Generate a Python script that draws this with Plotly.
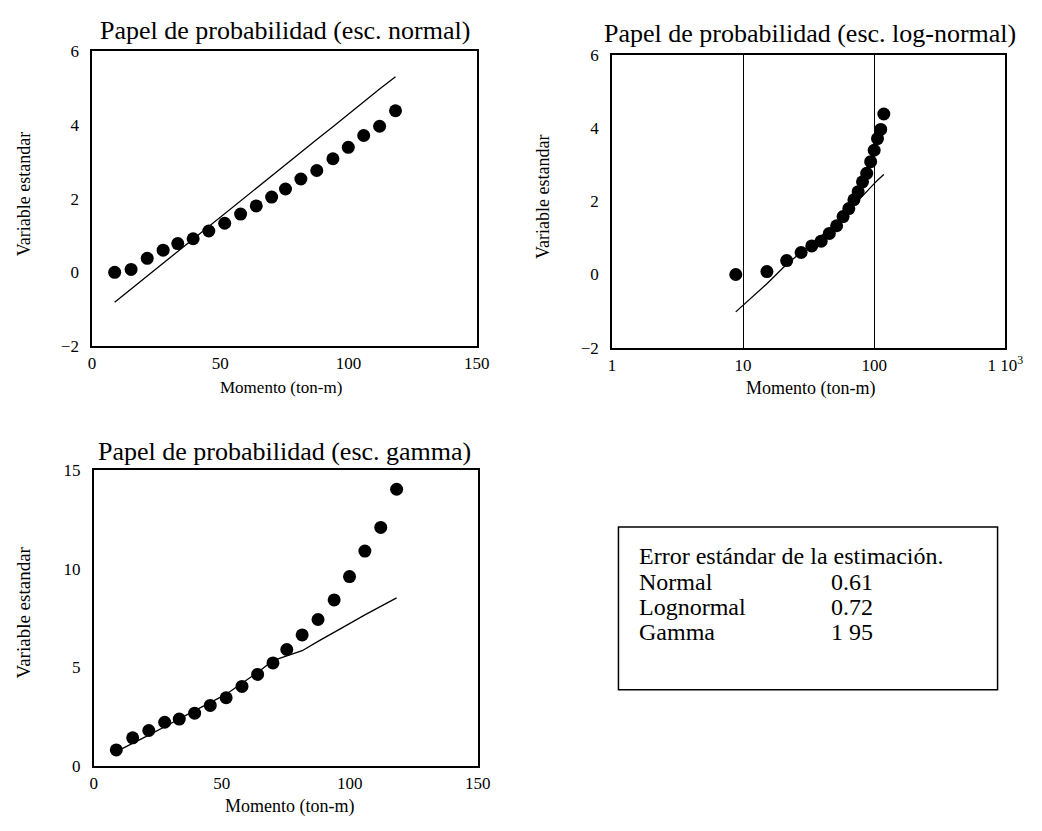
import plotly.graph_objects as go

W, H = 1042, 831
FONT = "Liberation Serif"

# ---------------- data ----------------
moment = [8.8, 15.2, 21.5, 27.7, 33.4, 39.4, 45.5, 51.7, 57.9, 64.0,
          70.0, 75.4, 81.4, 87.6, 93.9, 99.9, 105.9, 112.1, 118.3]
std_var = [0.0, 0.08, 0.38, 0.60, 0.78, 0.91, 1.12, 1.33, 1.58, 1.80,
           2.04, 2.26, 2.53, 2.76, 3.08, 3.39, 3.71, 3.96, 4.38]
fit_normal = [-0.81, -0.45, -0.10, 0.25, 0.56, 0.90, 1.24, 1.59, 1.94, 2.28,
              2.61, 2.92, 3.25, 3.60, 3.95, 4.29, 4.62, 4.97, 5.30]
fit_lognormal = [-1.02, -0.25, 0.28, 0.60, 0.84, 1.05, 1.23, 1.40, 1.58, 1.75,
                 1.90, 2.03, 2.16, 2.27, 2.38, 2.48, 2.57, 2.65, 2.73]
gamma_var = [0.83, 1.44, 1.81, 2.23, 2.39, 2.69, 3.08, 3.47, 4.04, 4.65,
             5.23, 5.91, 6.65, 7.43, 8.42, 9.60, 10.89, 12.09, 14.02]
fit_gamma = [0.74, 1.15, 1.58, 2.00, 2.42, 2.82, 3.22, 3.65, 4.20, 4.75,
             5.35, 5.60, 5.85, 6.32, 6.80, 7.22, 7.66, 8.10, 8.52]

titles = ["Papel de probabilidad (esc. normal)",
          "Papel de probabilidad (esc. log-normal)",
          "Papel de probabilidad (esc. gamma)"]
x_title = "Momento (ton-m)"
y_title = "Variable estandar"

lin_ticks = [0, 50, 100, 150]
log_tickvals = [1, 10, 100, 1000]
log_ticktext = ["1", "10", "100", "1 10<sup>3</sup>"]

err_header = "Error estándar de la estimación."
err_names = ["Normal", "Lognormal", "Gamma"]
err_values = ["0.61", "0.72", "1 95"]

# ---------------- helpers ----------------
def px(x):
    return x / W

def py(y):
    return 1 - y / H

fig = go.Figure()

pt = dict(mode="markers", marker=dict(color="black", size=13), showlegend=False,
          hoverinfo="skip")
ln = dict(mode="lines", line=dict(color="black", width=1.3), showlegend=False,
          hoverinfo="skip")

fig.add_trace(go.Scatter(x=moment, y=fit_normal, xaxis="x", yaxis="y", **ln))
fig.add_trace(go.Scatter(x=moment, y=std_var, xaxis="x", yaxis="y", **pt))
fig.add_trace(go.Scatter(x=moment, y=fit_lognormal, xaxis="x2", yaxis="y2", **ln))
fig.add_trace(go.Scatter(x=moment, y=std_var, xaxis="x2", yaxis="y2", **pt))
fig.add_trace(go.Scatter(x=moment, y=fit_gamma, xaxis="x3", yaxis="y3", **ln))
fig.add_trace(go.Scatter(x=moment, y=gamma_var, xaxis="x3", yaxis="y3", **pt))

axis_common = dict(showline=True, mirror=True, linecolor="black", linewidth=1.5,
                   zeroline=False, ticks="",
                   tickfont=dict(family=FONT, size=17, color="black"))

fig.update_layout(
    width=W, height=H,
    margin=dict(l=0, r=0, t=0, b=0),
    paper_bgcolor="white", plot_bgcolor="white",
    xaxis=dict(domain=[px(90), px(483)], range=[0, 150], tickvals=lin_ticks,
               anchor="y", ticklabelstandoff=1, showgrid=False, **axis_common),
    yaxis=dict(domain=[py(345), py(43)], range=[-2, 6], dtick=2,
               anchor="x", ticklabelstandoff=8, showgrid=False, **axis_common),
    xaxis2=dict(domain=[px(621), px(1023)], type="log", range=[0, 3],
                tickvals=log_tickvals, ticktext=log_ticktext, anchor="y2",
                ticklabelstandoff=1, showgrid=True,
                gridcolor="black", gridwidth=1.2, **axis_common),
    yaxis2=dict(domain=[py(346.7), py(46.7)], range=[-2, 6], dtick=2,
                anchor="x2", ticklabelstandoff=8, showgrid=False, **axis_common),
    xaxis3=dict(domain=[px(91.7), px(484)], range=[0, 150], tickvals=lin_ticks,
                anchor="y3", ticklabelstandoff=1, showgrid=False, **axis_common),
    yaxis3=dict(domain=[py(775), py(471.7)], range=[0, 15], dtick=5,
                anchor="x3", ticklabelstandoff=8, showgrid=False, **axis_common),
)

ann = []
def text(x, y, s, size, xanchor="center", angle=0):
    ann.append(dict(x=px(x), y=py(y), xref="paper", yref="paper", text=s,
                    showarrow=False, xanchor=xanchor, yanchor="middle",
                    textangle=angle,
                    font=dict(family=FONT, size=size, color="black")))

# titles
text(287, 22, titles[0], 26)
text(823, 25, titles[1], 26)
text(287, 453, titles[2], 26)
# axis titles
text(283, 387, x_title, 17)
text(824, 388, x_title, 18)
text(292, 816, x_title, 18)
text(20, 190, y_title, 18, angle=-90)
text(550, 192, y_title, 18, angle=-90)
text(20, 618, y_title, 19, angle=-90)

# error box
text(647, 560, err_header, 24, xanchor="left")
for i, (n, v) in enumerate(zip(err_names, err_values)):
    yy = 586 + 26 * i
    text(647, yy, n, 24, xanchor="left")
    text(843, yy, v, 24, xanchor="left")

fig.update_layout(annotations=ann)
fig.add_shape(type="rect", xref="paper", yref="paper",
              x0=px(627.7), x1=px(1015), y0=py(696.7), y1=py(530),
              line=dict(color="black", width=1.5))

fig.write_html("out.html")
